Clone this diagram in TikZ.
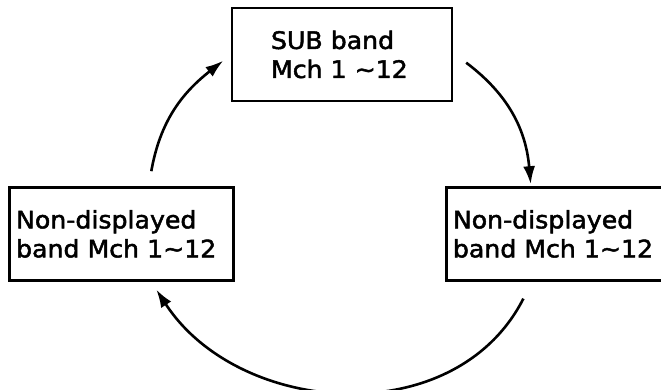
\documentclass[tikz,border=0pt]{standalone}
\usepackage{fontspec}
\usepackage{tikz}
\usetikzlibrary{arrows.meta, positioning, calc}
\newfontfamily\bandfont{DejaVu Sans}[FakeStretch=1.05, FakeBold=2]

\begin{document}
\begin{tikzpicture}[
    x=1pt, y=1pt,
    >={Latex[length=18pt,width=12pt]},
    bandbox/.style={
      draw=black, line width=2.4pt,
      minimum height=93pt, align=left,
      font=\bandfont\fontsize{24}{29}\selectfont
    },
    cycle/.style={->, line width=2.6pt}
  ]
  \useasboundingbox (0,0) rectangle (661,390);

  \node[bandbox, text width=142pt, minimum width=220pt] (sub) at (342,335.5)
    {SUB band\\Mch 1 ∼12};

  \node[bandbox, text width=211pt, inner xsep=6.5pt,
        below left=84pt and -4pt of sub] (hiddenl)
    {Non-displayed\\band~Mch~1∼12};

  \node[bandbox, text width=211pt, inner xsep=6.5pt,
        below right=84pt and -8pt of sub] (hiddenr)
    {Non-displayed\\band~Mch~1∼12};

  \draw[cycle] ($(sub.east)+(13,-8.2)$) to[out=-37, in=95]
    ($(hiddenr.north)+(-27.7,2)$);
  \draw[cycle] ($(hiddenr.south)+(-35,-17)$) to[out=-117, in=-57, looseness=1.05]
    ($(hiddenl.south)+(34.7,-8)$);
  \draw[cycle] ($(hiddenl.north)+(29.7,15)$) to[out=80, in=-142]
    ($(sub.west)+(-7.5,-6.2)$);

\end{tikzpicture}
\end{document}
